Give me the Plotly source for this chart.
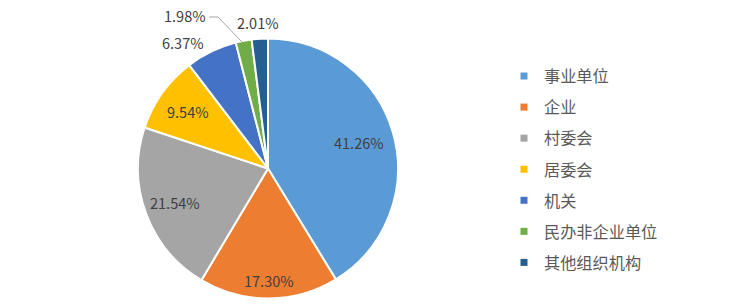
import math
import plotly.graph_objects as go

categories = ["事业单位", "企业", "村委会", "居委会", "机关", "民办非企业单位", "其他组织机构"]
values = [41.26, 17.30, 21.54, 9.54, 6.37, 1.98, 2.01]
colors = ["#5B9BD5", "#ED7D31", "#A5A5A5", "#FFC000", "#4472C4", "#70AD47", "#255E91"]

W, H = 753, 307
FONT = "Noto Sans CJK SC, Open Sans, sans-serif"
CX, CY, R = 268, 168.5, 130  # pie centre / radius in px

fig = go.Figure()
fig.add_trace(go.Pie(
    labels=categories, values=values, sort=False, direction="clockwise", rotation=0,
    marker=dict(colors=colors, line=dict(color="white", width=2)),
    textinfo="none",
    domain=dict(x=[(CX - R) / W, (CX + R) / W], y=[(H - CY - R) / H, (H - CY + R) / H]),
    showlegend=False, hoverinfo="label+percent",
))

# legend via dummy traces to control spacing
for i, (c, col) in enumerate(zip(categories, colors)):
    fig.add_trace(go.Scatter(x=[None], y=[None], mode="markers", name=c,
                             marker=dict(symbol="square", size=7, color=col),
                             legendgroup=f"g{i}", showlegend=True))

# inside labels placed at slice mid-angle (radius fraction per label)
inside_rfrac = [0.73, 0.86, 0.76, 0.76]
total = sum(values)
cum = 0.0
for i, v in enumerate(values):
    mid = (cum + v / 2) / total * 2 * math.pi
    cum += v
    if i < len(inside_rfrac):
        r = inside_rfrac[i] * R
        px = CX + r * math.sin(mid)
        py = CY - r * math.cos(mid)
        fig.add_annotation(x=px / W, y=1 - py / H, xref="paper", yref="paper",
                           xanchor="center", yanchor="middle",
                           text=f"{v:.2f}%", showarrow=False,
                           font=dict(family=FONT, size=14.5, color="#404040"))

# outside labels for small slices
outside = [(4, 183, 42), (5, 185, 15), (6, 258, 22)]
for idx, px, py in outside:
    fig.add_annotation(x=px / W, y=1 - py / H, xref="paper", yref="paper",
                       xanchor="center", yanchor="middle",
                       text=f"{values[idx]:.2f}%", showarrow=False,
                       font=dict(family=FONT, size=14.5, color="#404040"))
fig.add_shape(type="path", xref="paper", yref="paper",
              path=f"M {209/W} {1-17/H} L {218/W} {1-17/H} L {242/W} {1-42/H}",
              line=dict(color="#A6A6A6", width=1))

fig.update_layout(
    width=W, height=H, margin=dict(l=0, r=0, t=0, b=0),
    paper_bgcolor="white", plot_bgcolor="white",
    xaxis=dict(visible=False), yaxis=dict(visible=False),
    legend=dict(x=504 / W, y=1 - 59 / H, xanchor="left", yanchor="top",
                font=dict(family=FONT, size=16.2, color="#595959"),
                tracegroupgap=7, itemwidth=30, bgcolor="rgba(0,0,0,0)"),
)

fig.write_html("out.html")
